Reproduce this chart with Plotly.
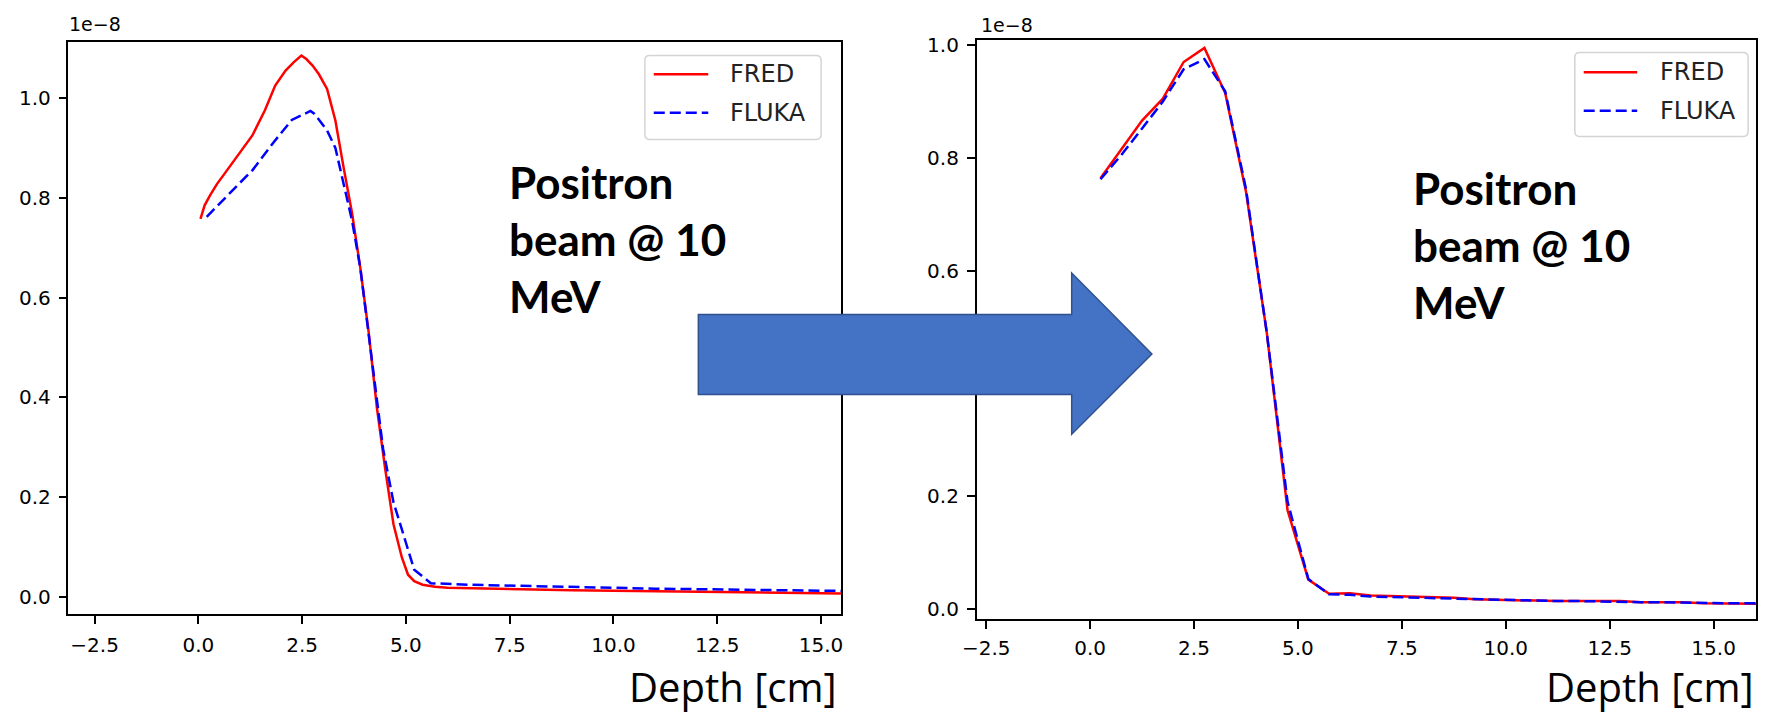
import plotly.graph_objects as go

W, H = 1769, 717
OFFX, OFFY = 8, 0  # horizontal page margin of the html page
FW, FH = W - OFFX, H - OFFY

# ---------------- data (dose values in units of 1e-8) ----------------
left_fred_x = [0.05, 0.15, 0.28, 0.45, 0.6, 0.8, 1.0, 1.3, 1.6, 1.85, 2.1, 2.3, 2.48, 2.6, 2.75,
               2.9, 3.1, 3.3, 3.5, 3.7, 3.9, 4.1, 4.3, 4.5, 4.7, 4.9, 5.05, 5.2, 5.4, 5.7, 6.0,
               6.5, 7.0, 8.0, 9.0, 10.0, 11.0, 12.0, 13.0, 14.0, 15.0, 16.0]
left_fred_y = [0.758, 0.785, 0.805, 0.828, 0.845, 0.868, 0.890, 0.925, 0.975, 1.025, 1.055, 1.072,
               1.085, 1.078, 1.065, 1.048, 1.018, 0.955, 0.860, 0.770, 0.660, 0.532, 0.380, 0.257,
               0.146, 0.080, 0.045, 0.032, 0.025, 0.021, 0.019, 0.018, 0.017, 0.016, 0.014, 0.013,
               0.012, 0.011, 0.010, 0.009, 0.008, 0.007]

left_fluka_x = [0.2, 0.6, 1.0, 1.3, 1.8, 2.25, 2.7, 2.8, 3.1, 3.3, 3.5, 3.7, 3.9, 4.2, 4.45, 4.7,
                4.95, 5.2, 5.6, 6.0, 6.5, 7.0, 8.0, 9.0, 10.0, 11.0, 12.0, 13.0, 14.0, 15.0, 16.0]
left_fluka_y = [0.762, 0.795, 0.830, 0.855, 0.910, 0.956, 0.974, 0.968, 0.935, 0.900, 0.830, 0.755,
                0.660, 0.460, 0.297, 0.190, 0.120, 0.055, 0.028, 0.026, 0.025, 0.024, 0.022, 0.020,
                0.018, 0.017, 0.016, 0.015, 0.014, 0.0125, 0.012]

right_x = [0.25, 0.75, 1.25, 1.75, 2.25, 2.75, 3.25, 3.75, 4.25, 4.75, 5.25, 5.75, 6.25, 6.75,
           7.25, 7.75, 8.25, 8.75, 9.25, 9.75, 10.25, 10.75, 11.25, 11.75, 12.25, 12.75, 13.25,
           13.75, 14.25, 14.75, 15.25, 15.75, 16.25]
right_fred_y = [0.764, 0.815, 0.866, 0.905, 0.970, 0.995, 0.915, 0.740, 0.490, 0.175, 0.052, 0.027,
                0.028, 0.024, 0.023, 0.021, 0.020, 0.020, 0.017, 0.016, 0.015, 0.014, 0.014, 0.014,
                0.014, 0.014, 0.012, 0.012, 0.012, 0.010, 0.010, 0.010, 0.009]
right_fluka_y = [0.762, 0.805, 0.852, 0.900, 0.957, 0.975, 0.918, 0.745, 0.490, 0.190, 0.053, 0.026,
                 0.025, 0.022, 0.021, 0.020, 0.019, 0.018, 0.017, 0.016, 0.015, 0.015, 0.014, 0.014,
                 0.013, 0.013, 0.012, 0.012, 0.011, 0.011, 0.010, 0.010, 0.010]

x_ticks = [-2.5, 0.0, 2.5, 5.0, 7.5, 10.0, 12.5, 15.0]
y_ticks = [0.0, 0.2, 0.4, 0.6, 0.8, 1.0]
series_names = ["FRED", "FLUKA"]
offset_label = "1e\u22128"
x_label = "Depth [cm]"
note_text = "Positron<br>beam @ 10<br>MeV"

# ---------------- styling ----------------
RED = "#ff0000"
BLUE = "#0000ff"
DASH = "11px,5px"
TICK_FONT = dict(family="DejaVu Sans", size=20, color="black")


def px(x):
    return (x - OFFX) / FW


def py(y):
    return 1 - (y - OFFY) / FH


fig = go.Figure()
fig.add_trace(go.Scatter(x=left_fred_x, y=left_fred_y, mode="lines", name=series_names[0],
                         line=dict(color=RED, width=2.5), xaxis="x", yaxis="y", showlegend=False))
fig.add_trace(go.Scatter(x=left_fluka_x, y=left_fluka_y, mode="lines", name=series_names[1],
                         line=dict(color=BLUE, width=2.5, dash=DASH), xaxis="x", yaxis="y",
                         showlegend=False))
fig.add_trace(go.Scatter(x=right_x, y=right_fred_y, mode="lines", name=series_names[0],
                         line=dict(color=RED, width=2.5), xaxis="x2", yaxis="y2", showlegend=False))
fig.add_trace(go.Scatter(x=right_x, y=right_fluka_y, mode="lines", name=series_names[1],
                         line=dict(color=BLUE, width=2.5, dash=DASH), xaxis="x2", yaxis="y2",
                         showlegend=False))

axis_common = dict(showline=True, linecolor="black", linewidth=1.5, mirror=True, ticks="outside",
                   ticklen=8, tickwidth=1.5, tickcolor="black", showgrid=False, zeroline=False,
                   tickfont=TICK_FONT, tickformat=".1f")

# left panel box: x 62..842, y 36..615 ; right panel: x 979..1766, y 34..620
fig.update_layout(
    width=FW, height=FH, margin=dict(l=0, r=0, t=0, b=0),
    paper_bgcolor="white", plot_bgcolor="white",
    xaxis=dict(domain=[px(62), px(842)], range=[-3.13, 15.48], tickvals=x_ticks, anchor="y",
               ticklabelstandoff=4, **axis_common),
    yaxis=dict(domain=[py(615), py(36)], range=[-0.034, 1.113], tickvals=y_ticks, anchor="x",
               ticklabelstandoff=4, **axis_common),
    xaxis2=dict(domain=[px(979), px(1766)], range=[-2.73, 16.02], tickvals=x_ticks, anchor="y2",
                ticklabelstandoff=2, **axis_common),
    yaxis2=dict(domain=[py(620), py(34)], range=[-0.018, 1.0097], tickvals=y_ticks, anchor="x2",
                ticklabelstandoff=4, **axis_common),
)

shapes = []
annotations = []

# manual legends (matplotlib style)
for (bx0, by0, bx1, by1, lx0, lx1, tx, ys) in [
    (644, 50, 822, 135, 653, 708, 728, (69, 108)),
    (1583, 47, 1758, 132, 1592, 1646, 1667, (67, 106)),
]:
    r = 5
    path = (f"M {px(bx0 + r)},{py(by0)} L {px(bx1 - r)},{py(by0)} "
            f"Q {px(bx1)},{py(by0)} {px(bx1)},{py(by0 + r)} L {px(bx1)},{py(by1 - r)} "
            f"Q {px(bx1)},{py(by1)} {px(bx1 - r)},{py(by1)} L {px(bx0 + r)},{py(by1)} "
            f"Q {px(bx0)},{py(by1)} {px(bx0)},{py(by1 - r)} L {px(bx0)},{py(by0 + r)} "
            f"Q {px(bx0)},{py(by0)} {px(bx0 + r)},{py(by0)} Z")
    shapes.append(dict(type="path", xref="paper", yref="paper", path=path,
                       fillcolor="rgba(255,255,255,0.8)", line=dict(color="#d4d4d4", width=1.5),
                       layer="above"))
    for name, col, dash, yy in [(series_names[0], RED, "solid", ys[0]),
                                (series_names[1], BLUE, DASH, ys[1])]:
        shapes.append(dict(type="line", xref="paper", yref="paper", x0=px(lx0), x1=px(lx1),
                           y0=py(yy), y1=py(yy), line=dict(color=col, width=2.5, dash=dash),
                           layer="above"))
        annotations.append(dict(text=name, xref="paper", yref="paper", x=px(tx), y=py(yy),
                                xanchor="left", yanchor="middle", showarrow=False,
                                font=dict(family="DejaVu Sans", size=24, color="#222")))

# offset labels
for xx, yy in [(61, 18), (981, 19)]:
    annotations.append(dict(text=offset_label, xref="paper", yref="paper", x=px(xx), y=py(yy),
                            xanchor="left", yanchor="middle", showarrow=False,
                            font=dict(family="DejaVu Sans", size=19, color="black")))

# bold notes
for xx, yy in [(505, 236), (1418, 242)]:
    annotations.append(dict(text=f"<b>{note_text}</b>", xref="paper", yref="paper", x=px(xx),
                            y=py(yy), xanchor="left", yanchor="middle", align="left",
                            showarrow=False, font=dict(family="Lato", size=44, color="black")))

# x labels
for xx in [839, 1765]:
    annotations.append(dict(text=x_label, xref="paper", yref="paper", x=px(xx), y=0,
                            xanchor="right", yanchor="bottom", showarrow=False, borderpad=0,
                            font=dict(family="Open Sans", size=40, color="black")))

# big arrow
arrow = [(698, 312), (1075, 312), (1075, 270), (1156, 352), (1075, 433), (1075, 393), (698, 393)]
apath = "M " + " L ".join(f"{px(a)},{py(b)}" for a, b in arrow) + " Z"
shapes.append(dict(type="path", xref="paper", yref="paper", path=apath, fillcolor="#4472C4",
                   line=dict(color="#2F528F", width=1.5), layer="above"))

fig.update_layout(shapes=shapes, annotations=annotations)
fig.write_html("out.html")
